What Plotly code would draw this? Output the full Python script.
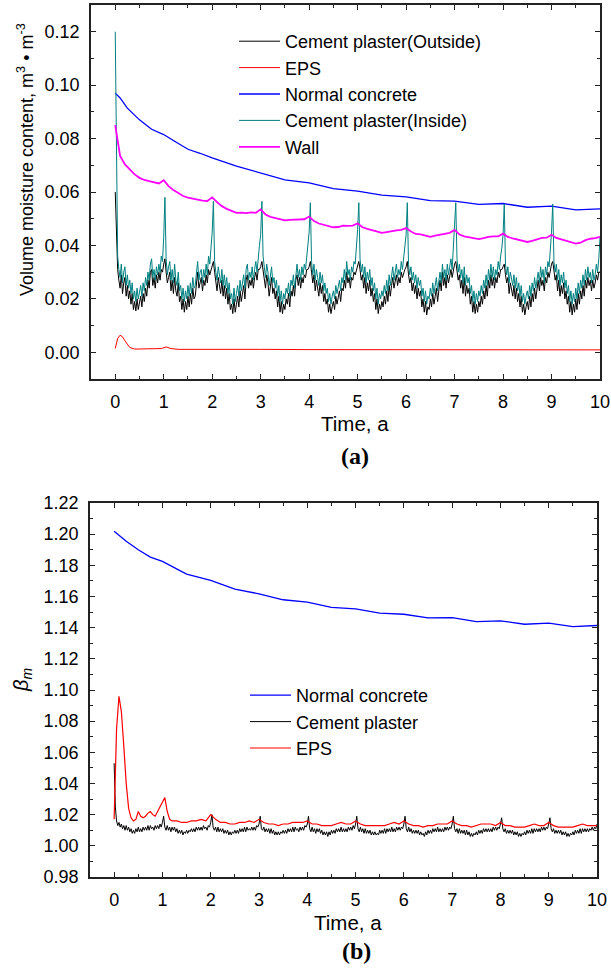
import numpy as np
import plotly.graph_objects as go

# ---------------- data: panel (a) ----------------
t_fine = np.round(np.linspace(0, 10, 401), 3)   # time, a (0.025 step)

cp_inside = [
    0.120, 0.060, 0.036, 0.031, 0.028, 0.033, 0.026, 0.030, 0.032, 0.025, 0.029, 0.024, 0.027, 0.022, 0.026, 0.020, 0.023, 0.019, 0.024, 0.020,
    0.022, 0.025, 0.021, 0.026, 0.023, 0.028, 0.025, 0.030, 0.027, 0.033, 0.035, 0.028, 0.031, 0.027, 0.032, 0.029, 0.033, 0.030, 0.036, 0.034,
    0.043, 0.058, 0.035, 0.029, 0.032, 0.034, 0.027, 0.031, 0.026, 0.033, 0.027, 0.025, 0.030, 0.023, 0.025, 0.020, 0.024, 0.019, 0.023, 0.020,
    0.025, 0.021, 0.026, 0.022, 0.028, 0.024, 0.025, 0.030, 0.034, 0.027, 0.030, 0.031, 0.026, 0.031, 0.028, 0.033, 0.029, 0.036, 0.033, 0.039,
    0.045, 0.0565, 0.034, 0.030, 0.027, 0.032, 0.029, 0.026, 0.031, 0.025, 0.029, 0.024, 0.028, 0.022, 0.026, 0.020, 0.022, 0.018, 0.024, 0.019,
    0.022, 0.025, 0.021, 0.027, 0.023, 0.026, 0.029, 0.024, 0.031, 0.033, 0.027, 0.030, 0.028, 0.032, 0.027, 0.031, 0.034, 0.030, 0.037, 0.040,
    0.044, 0.0565, 0.036, 0.031, 0.028, 0.033, 0.030, 0.025, 0.029, 0.032, 0.026, 0.028, 0.024, 0.027, 0.021, 0.025, 0.019, 0.023, 0.018, 0.022,
    0.020, 0.024, 0.022, 0.026, 0.021, 0.027, 0.025, 0.029, 0.024, 0.030, 0.033, 0.028, 0.031, 0.027, 0.032, 0.029, 0.033, 0.031, 0.036, 0.039,
    0.045, 0.056, 0.034, 0.029, 0.033, 0.027, 0.031, 0.028, 0.025, 0.030, 0.026, 0.029, 0.023, 0.026, 0.022, 0.024, 0.019, 0.022, 0.018, 0.021,
    0.023, 0.020, 0.025, 0.022, 0.024, 0.027, 0.023, 0.028, 0.026, 0.031, 0.027, 0.034, 0.029, 0.031, 0.027, 0.032, 0.030, 0.034, 0.033, 0.039,
    0.046, 0.056, 0.035, 0.030, 0.033, 0.028, 0.032, 0.026, 0.030, 0.027, 0.031, 0.025, 0.028, 0.023, 0.026, 0.020, 0.024, 0.018, 0.022, 0.020,
    0.023, 0.021, 0.025, 0.022, 0.027, 0.023, 0.029, 0.025, 0.028, 0.032, 0.027, 0.030, 0.033, 0.028, 0.031, 0.029, 0.034, 0.031, 0.035, 0.038,
    0.044, 0.056, 0.033, 0.029, 0.032, 0.027, 0.030, 0.026, 0.029, 0.024, 0.028, 0.025, 0.027, 0.021, 0.024, 0.019, 0.023, 0.018, 0.021, 0.020,
    0.024, 0.021, 0.026, 0.022, 0.025, 0.028, 0.023, 0.027, 0.030, 0.026, 0.033, 0.028, 0.031, 0.027, 0.033, 0.029, 0.032, 0.035, 0.031, 0.038,
    0.045, 0.056, 0.035, 0.030, 0.033, 0.028, 0.031, 0.026, 0.032, 0.025, 0.029, 0.026, 0.028, 0.022, 0.025, 0.019, 0.023, 0.018, 0.022, 0.019,
    0.023, 0.021, 0.025, 0.022, 0.027, 0.024, 0.029, 0.025, 0.031, 0.027, 0.033, 0.028, 0.032, 0.027, 0.031, 0.029, 0.034, 0.031, 0.036, 0.039,
    0.044, 0.0555, 0.033, 0.029, 0.032, 0.026, 0.030, 0.027, 0.025, 0.029, 0.024, 0.028, 0.023, 0.026, 0.021, 0.025, 0.019, 0.022, 0.018, 0.021,
    0.023, 0.020, 0.025, 0.021, 0.026, 0.023, 0.028, 0.024, 0.027, 0.030, 0.026, 0.032, 0.028, 0.031, 0.026, 0.032, 0.029, 0.034, 0.032, 0.038,
    0.045, 0.0555, 0.034, 0.030, 0.033, 0.027, 0.031, 0.025, 0.029, 0.026, 0.030, 0.024, 0.027, 0.022, 0.025, 0.019, 0.023, 0.018, 0.022, 0.019,
    0.024, 0.020, 0.026, 0.022, 0.027, 0.024, 0.029, 0.025, 0.031, 0.027, 0.032, 0.028, 0.030, 0.026, 0.031, 0.027, 0.029, 0.033, 0.030, 0.035,
    0.043,
]

cp_outside = [
    0.060, 0.040, 0.031, 0.027, 0.024, 0.029, 0.022, 0.026, 0.028, 0.021, 0.025, 0.020, 0.023, 0.018, 0.022, 0.016, 0.019, 0.0155, 0.020, 0.016,
    0.018, 0.021, 0.017, 0.022, 0.019, 0.024, 0.021, 0.027, 0.024, 0.030, 0.031, 0.025, 0.028, 0.024, 0.029, 0.026, 0.030, 0.027, 0.031, 0.030,
    0.033, 0.035, 0.030, 0.026, 0.028, 0.030, 0.023, 0.027, 0.022, 0.028, 0.023, 0.021, 0.026, 0.019, 0.021, 0.016, 0.020, 0.015, 0.019, 0.016,
    0.021, 0.017, 0.022, 0.018, 0.024, 0.020, 0.021, 0.026, 0.030, 0.024, 0.026, 0.028, 0.023, 0.027, 0.025, 0.029, 0.026, 0.031, 0.029, 0.031,
    0.032, 0.034, 0.030, 0.027, 0.023, 0.028, 0.025, 0.022, 0.027, 0.021, 0.025, 0.020, 0.024, 0.018, 0.022, 0.016, 0.018, 0.0145, 0.020, 0.015,
    0.018, 0.021, 0.017, 0.023, 0.019, 0.022, 0.025, 0.020, 0.027, 0.029, 0.024, 0.027, 0.025, 0.028, 0.024, 0.028, 0.030, 0.027, 0.031, 0.031,
    0.032, 0.034, 0.031, 0.027, 0.024, 0.029, 0.026, 0.021, 0.025, 0.028, 0.022, 0.024, 0.020, 0.023, 0.017, 0.021, 0.015, 0.019, 0.0145, 0.018,
    0.016, 0.020, 0.018, 0.022, 0.017, 0.023, 0.021, 0.025, 0.021, 0.027, 0.029, 0.025, 0.028, 0.024, 0.028, 0.026, 0.029, 0.028, 0.031, 0.031,
    0.032, 0.034, 0.030, 0.026, 0.029, 0.023, 0.027, 0.024, 0.021, 0.026, 0.022, 0.025, 0.019, 0.022, 0.018, 0.020, 0.015, 0.018, 0.0145, 0.017,
    0.019, 0.016, 0.021, 0.018, 0.020, 0.023, 0.019, 0.024, 0.023, 0.027, 0.024, 0.030, 0.026, 0.028, 0.024, 0.028, 0.027, 0.030, 0.029, 0.031,
    0.033, 0.034, 0.031, 0.027, 0.029, 0.024, 0.028, 0.022, 0.026, 0.023, 0.027, 0.021, 0.024, 0.019, 0.022, 0.016, 0.020, 0.0145, 0.018, 0.016,
    0.019, 0.017, 0.021, 0.018, 0.023, 0.019, 0.025, 0.021, 0.025, 0.028, 0.024, 0.027, 0.029, 0.025, 0.028, 0.026, 0.030, 0.028, 0.030, 0.031,
    0.032, 0.034, 0.029, 0.026, 0.028, 0.023, 0.026, 0.022, 0.025, 0.020, 0.024, 0.021, 0.023, 0.017, 0.020, 0.015, 0.019, 0.014, 0.017, 0.016,
    0.020, 0.017, 0.022, 0.018, 0.021, 0.024, 0.019, 0.023, 0.027, 0.023, 0.030, 0.025, 0.028, 0.024, 0.029, 0.026, 0.028, 0.031, 0.028, 0.031,
    0.033, 0.034, 0.031, 0.027, 0.029, 0.024, 0.027, 0.022, 0.028, 0.021, 0.025, 0.022, 0.024, 0.018, 0.021, 0.015, 0.019, 0.0145, 0.018, 0.015,
    0.019, 0.017, 0.021, 0.018, 0.023, 0.020, 0.025, 0.021, 0.027, 0.024, 0.029, 0.025, 0.028, 0.024, 0.028, 0.026, 0.030, 0.028, 0.031, 0.031,
    0.032, 0.033, 0.029, 0.026, 0.028, 0.022, 0.026, 0.023, 0.021, 0.025, 0.020, 0.024, 0.019, 0.022, 0.017, 0.021, 0.015, 0.018, 0.014, 0.017,
    0.019, 0.016, 0.021, 0.017, 0.022, 0.019, 0.024, 0.020, 0.024, 0.027, 0.023, 0.028, 0.025, 0.027, 0.023, 0.028, 0.026, 0.030, 0.028, 0.031,
    0.033, 0.034, 0.030, 0.027, 0.029, 0.023, 0.027, 0.021, 0.025, 0.022, 0.026, 0.020, 0.023, 0.018, 0.021, 0.015, 0.019, 0.014, 0.018, 0.015,
    0.020, 0.016, 0.022, 0.018, 0.023, 0.020, 0.025, 0.021, 0.027, 0.024, 0.028, 0.025, 0.027, 0.023, 0.027, 0.024, 0.026, 0.029, 0.027, 0.030,
    0.030,
]

eps_t = [0, 0.05, 0.1, 0.15, 0.2, 0.25, 0.3, 0.4, 0.6, 0.8, 0.95, 1.05, 1.15, 1.3, 1.6, 2.0, 2.05, 2.2,
         3, 4, 5, 6, 7, 8, 9, 10]
eps_a = [0.0014, 0.0052, 0.0064, 0.0058, 0.0043, 0.0028, 0.0018, 0.0012, 0.0012, 0.0013, 0.0014, 0.0020,
         0.0014, 0.0011, 0.0011, 0.0012, 0.0013, 0.0011, 0.0011, 0.0010, 0.0010, 0.0010, 0.0009, 0.0009,
         0.0009, 0.0009]

nc_t = [0, 0.1, 0.25, 0.5, 0.75, 1.0, 1.25, 1.5, 1.75, 2.0, 2.5, 3.0, 3.5, 4.0, 4.5, 5.0, 5.5, 6.0,
        6.5, 7.0, 7.5, 8.0, 8.5, 9.0, 9.5, 10.0]
nc_a = [0.0970, 0.0952, 0.0914, 0.0870, 0.0835, 0.0815, 0.0787, 0.0760, 0.0745, 0.0728, 0.0697, 0.0672,
        0.0645, 0.0634, 0.0613, 0.0603, 0.0588, 0.0582, 0.0568, 0.0566, 0.0554, 0.0557, 0.0543, 0.0547,
        0.0533, 0.0537]

wall_t = np.round(np.linspace(0, 10, 101), 2)
wall_a = [
    0.0850, 0.0735, 0.0703, 0.0685, 0.0666, 0.0653, 0.0645, 0.0641, 0.0636, 0.0632,
    0.0644, 0.0622, 0.0607, 0.0597, 0.0585, 0.0579, 0.0575, 0.0570, 0.0568, 0.0566,
    0.0580, 0.0562, 0.0547, 0.0537, 0.0528, 0.0522, 0.0523, 0.0521, 0.0524, 0.0522,
    0.0535, 0.0516, 0.0507, 0.0503, 0.0497, 0.0494, 0.0496, 0.0497, 0.0499, 0.0498,
    0.0508, 0.0491, 0.0482, 0.0478, 0.0472, 0.0468, 0.0469, 0.0474, 0.0473, 0.0474,
    0.0483, 0.0468, 0.0462, 0.0457, 0.0451, 0.0447, 0.0450, 0.0454, 0.0456, 0.0458,
    0.0465, 0.0452, 0.0443, 0.0441, 0.0437, 0.0432, 0.0437, 0.0441, 0.0443, 0.0447,
    0.0458, 0.0441, 0.0434, 0.0430, 0.0427, 0.0424, 0.0427, 0.0432, 0.0434, 0.0434,
    0.0444, 0.0432, 0.0426, 0.0422, 0.0417, 0.0413, 0.0417, 0.0424, 0.0428, 0.0429,
    0.0440, 0.0428, 0.0422, 0.0416, 0.0412, 0.0407, 0.0410, 0.0420, 0.0425, 0.0427,
    0.0432,
]

# ---------------- data: panel (b) ----------------
nc_b_t = [0, 0.25, 0.5, 0.75, 1.0, 1.5, 2.0, 2.5, 3.0, 3.5, 4.0, 4.5, 5.0, 5.5, 6.0, 6.5, 7.0, 7.5,
          8.0, 8.5, 9.0, 9.5, 10.0]
nc_b = [1.2018, 1.1954, 1.1900, 1.1853, 1.1825, 1.1744, 1.1703, 1.1647, 1.1617, 1.1579, 1.1564, 1.1530,
        1.1521, 1.1493, 1.1486, 1.1463, 1.1465, 1.1439, 1.1444, 1.1422, 1.1429, 1.1407, 1.1414]

cp_b = [
    1.053, 1.025, 1.016, 1.013, 1.015, 1.012, 1.014, 1.011, 1.013, 1.010, 1.013, 1.010, 1.012, 1.009, 1.011, 1.008, 1.010, 1.008, 1.011, 1.009,
    1.012, 1.009, 1.011, 1.009, 1.012, 1.010, 1.012, 1.010, 1.013, 1.010, 1.013, 1.011, 1.012, 1.010, 1.013, 1.011, 1.013, 1.011, 1.014, 1.012,
    1.015, 1.019, 1.012, 1.010, 1.013, 1.010, 1.012, 1.009, 1.012, 1.010, 1.012, 1.009, 1.011, 1.008, 1.010, 1.008, 1.010, 1.007, 1.009, 1.008,
    1.010, 1.008, 1.010, 1.009, 1.011, 1.009, 1.011, 1.009, 1.012, 1.010, 1.012, 1.010, 1.012, 1.010, 1.013, 1.011, 1.012, 1.010, 1.013, 1.012,
    1.015, 1.020, 1.012, 1.010, 1.012, 1.009, 1.012, 1.009, 1.011, 1.009, 1.011, 1.008, 1.010, 1.008, 1.010, 1.007, 1.009, 1.007, 1.009, 1.008,
    1.010, 1.008, 1.010, 1.008, 1.011, 1.009, 1.011, 1.009, 1.012, 1.009, 1.012, 1.010, 1.011, 1.010, 1.012, 1.010, 1.012, 1.010, 1.013, 1.012,
    1.014, 1.019, 1.011, 1.010, 1.012, 1.009, 1.011, 1.009, 1.011, 1.008, 1.011, 1.008, 1.010, 1.007, 1.009, 1.007, 1.009, 1.007, 1.009, 1.008,
    1.010, 1.008, 1.010, 1.008, 1.011, 1.009, 1.011, 1.009, 1.012, 1.009, 1.012, 1.010, 1.011, 1.009, 1.012, 1.010, 1.012, 1.010, 1.013, 1.012,
    1.014, 1.019, 1.011, 1.009, 1.012, 1.009, 1.011, 1.008, 1.011, 1.009, 1.011, 1.008, 1.010, 1.007, 1.009, 1.007, 1.009, 1.006, 1.009, 1.007,
    1.010, 1.008, 1.010, 1.008, 1.011, 1.009, 1.011, 1.009, 1.012, 1.009, 1.011, 1.009, 1.011, 1.009, 1.012, 1.010, 1.012, 1.010, 1.013, 1.011,
    1.014, 1.019, 1.011, 1.009, 1.012, 1.009, 1.011, 1.008, 1.011, 1.008, 1.010, 1.008, 1.010, 1.007, 1.009, 1.007, 1.009, 1.007, 1.008, 1.007,
    1.010, 1.008, 1.010, 1.008, 1.011, 1.008, 1.011, 1.009, 1.011, 1.009, 1.012, 1.009, 1.011, 1.009, 1.012, 1.010, 1.012, 1.010, 1.012, 1.011,
    1.014, 1.019, 1.011, 1.009, 1.012, 1.009, 1.011, 1.008, 1.010, 1.008, 1.010, 1.008, 1.010, 1.007, 1.009, 1.007, 1.008, 1.006, 1.009, 1.007,
    1.010, 1.008, 1.010, 1.008, 1.011, 1.009, 1.011, 1.009, 1.012, 1.009, 1.011, 1.009, 1.011, 1.009, 1.012, 1.010, 1.012, 1.010, 1.012, 1.011,
    1.014, 1.019, 1.011, 1.009, 1.011, 1.008, 1.011, 1.008, 1.010, 1.008, 1.010, 1.007, 1.010, 1.007, 1.009, 1.006, 1.008, 1.006, 1.008, 1.007,
    1.009, 1.007, 1.010, 1.008, 1.010, 1.008, 1.011, 1.009, 1.011, 1.009, 1.011, 1.009, 1.011, 1.009, 1.012, 1.010, 1.012, 1.010, 1.012, 1.011,
    1.014, 1.018, 1.011, 1.009, 1.011, 1.008, 1.010, 1.008, 1.010, 1.008, 1.010, 1.007, 1.009, 1.007, 1.009, 1.006, 1.008, 1.006, 1.008, 1.007,
    1.009, 1.007, 1.010, 1.008, 1.010, 1.008, 1.011, 1.008, 1.011, 1.009, 1.011, 1.009, 1.011, 1.009, 1.012, 1.010, 1.012, 1.010, 1.012, 1.011,
    1.014, 1.018, 1.011, 1.009, 1.011, 1.008, 1.010, 1.008, 1.010, 1.008, 1.010, 1.007, 1.009, 1.007, 1.009, 1.006, 1.008, 1.006, 1.008, 1.007,
    1.009, 1.007, 1.010, 1.008, 1.010, 1.008, 1.011, 1.008, 1.011, 1.009, 1.011, 1.009, 1.011, 1.009, 1.011, 1.010, 1.012, 1.010, 1.012, 1.011,
    1.014,
]

eps_b_t = np.concatenate([np.round(np.linspace(0, 1.2, 25), 2), np.round(np.linspace(1.3, 10.0, 88), 2)])
eps_b = [
    1.017, 1.075, 1.096, 1.086, 1.064, 1.040, 1.024, 1.018, 1.016, 1.017, 1.022, 1.019, 1.018, 1.019, 1.021,
    1.022, 1.020, 1.019, 1.022, 1.025, 1.029, 1.031, 1.022, 1.017, 1.016,
    1.016, 1.015, 1.015, 1.016, 1.016, 1.017, 1.016,
    1.020, 1.017, 1.015, 1.015, 1.014, 1.014, 1.015, 1.015, 1.016, 1.015,
    1.017, 1.015, 1.014, 1.014, 1.013, 1.014, 1.014, 1.015, 1.015, 1.015,
    1.016, 1.014, 1.014, 1.013, 1.013, 1.013, 1.014, 1.015, 1.014, 1.014,
    1.016, 1.014, 1.013, 1.013, 1.013, 1.013, 1.013, 1.014, 1.015, 1.014,
    1.016, 1.014, 1.013, 1.013, 1.012, 1.013, 1.013, 1.014, 1.014, 1.014,
    1.016, 1.014, 1.013, 1.013, 1.012, 1.013, 1.014, 1.014, 1.014, 1.013,
    1.015, 1.013, 1.013, 1.012, 1.012, 1.012, 1.013, 1.014, 1.013, 1.013,
    1.015, 1.013, 1.012, 1.012, 1.012, 1.012, 1.013, 1.014, 1.013, 1.013,
    1.013,
]

assert len(cp_inside) == len(t_fine) and len(cp_outside) == len(t_fine) and len(cp_b) == len(t_fine)
assert len(eps_b) == len(eps_b_t) and len(wall_a) == len(wall_t)

x_ticks = list(range(0, 11))

# ---------------- figure ----------------
W, H = 611, 970
FONT = "Arial, Liberation Sans, sans-serif"

fig = go.Figure()

fig.add_trace(go.Scatter(x=t_fine, y=cp_outside, mode="lines", name="Cement plaster(Outside)",
                         line=dict(color="#000000", width=1), xaxis="x", yaxis="y", legend="legend"))
fig.add_trace(go.Scatter(x=eps_t, y=eps_a, mode="lines", name="EPS",
                         line=dict(color="#FF0000", width=1), xaxis="x", yaxis="y", legend="legend"))
fig.add_trace(go.Scatter(x=nc_t, y=nc_a, mode="lines", name="Normal concrete",
                         line=dict(color="#0000FF", width=1.3), xaxis="x", yaxis="y", legend="legend"))
fig.add_trace(go.Scatter(x=t_fine, y=cp_inside, mode="lines", name="Cement plaster(Inside)",
                         line=dict(color="#008080", width=1), xaxis="x", yaxis="y", legend="legend"))
fig.add_trace(go.Scatter(x=wall_t, y=wall_a, mode="lines", name="Wall",
                         line=dict(color="#FF00FF", width=1.8), xaxis="x", yaxis="y", legend="legend"))

fig.add_trace(go.Scatter(x=nc_b_t, y=nc_b, mode="lines", name="Normal concrete",
                         line=dict(color="#0000FF", width=1.3), xaxis="x2", yaxis="y2", legend="legend2"))
fig.add_trace(go.Scatter(x=t_fine, y=cp_b, mode="lines", name="Cement plaster",
                         line=dict(color="#000000", width=1), xaxis="x2", yaxis="y2", legend="legend2"))
fig.add_trace(go.Scatter(x=eps_b_t, y=eps_b, mode="lines", name="EPS",
                         line=dict(color="#FF0000", width=1.2), xaxis="x2", yaxis="y2", legend="legend2"))


def px_x(px):
    return px / W


def px_y(py):
    return 1 - py / H


axis_common = dict(
    showline=True, linecolor="#222222", linewidth=1.6, mirror="ticks",
    ticks="inside", ticklen=5, tickwidth=1.3, tickcolor="#222222",
    showgrid=False, zeroline=False,
    tickfont=dict(family=FONT, size=18, color="#000000"),
    automargin=False,
)
minor_x = dict(dtick=0.5, tick0=0, ticks="inside", ticklen=3, tickcolor="#222222", showgrid=False)

fig.update_layout(
    width=W, height=H,
    margin=dict(l=0, r=0, t=0, b=0),
    paper_bgcolor="white", plot_bgcolor="white",
    showlegend=True,
    xaxis=dict(axis_common, domain=[px_x(91), px_x(600)], range=[-0.5, 10.0],
               tickvals=x_ticks, ticklabelstandoff=6, anchor="y", minor=minor_x),
    yaxis=dict(axis_common, domain=[px_y(379), px_y(5)], range=[-0.01, 0.13],
               dtick=0.02, tick0=0, tickformat=".2f", ticklabelstandoff=6, anchor="x",
               minor=dict(dtick=0.01, tick0=0, ticks="inside", ticklen=3, tickcolor="#222222", showgrid=False)),
    xaxis2=dict(axis_common, domain=[px_x(90), px_x(597)], range=[-0.5, 10.0],
                tickvals=x_ticks, ticklabelstandoff=6, anchor="y2", minor=minor_x),
    yaxis2=dict(axis_common, domain=[px_y(877), px_y(503)], range=[0.98, 1.22],
                dtick=0.02, tick0=0.98, tickformat=".2f", ticklabelstandoff=6, anchor="x2",
                minor=dict(dtick=0.01, tick0=0.98, ticks="inside", ticklen=3, tickcolor="#222222", showgrid=False)),
    legend=dict(x=px_x(234), y=px_y(23), xanchor="left", yanchor="top", itemwidth=41,
                bgcolor="rgba(0,0,0,0)", borderwidth=0, tracegroupgap=0,
                font=dict(family=FONT, size=18, color="#000000")),
    legend2=dict(x=px_x(245), y=px_y(677), xanchor="left", yanchor="top", itemwidth=41,
                 bgcolor="rgba(0,0,0,0)", borderwidth=0, tracegroupgap=0,
                 font=dict(family=FONT, size=18, color="#000000")),
)

annotations = [
    dict(text="Time, a", x=px_x(355), y=px_y(423), font=dict(family=FONT, size=20.5, color="#000")),
    dict(text="Time, a", x=px_x(348), y=px_y(922), font=dict(family=FONT, size=20.5, color="#000")),
    dict(text="<b>(a)</b>", x=px_x(355), y=px_y(456),
         font=dict(family="Liberation Serif, Times New Roman, serif", size=24, color="#000")),
    dict(text="<b>(b)</b>", x=px_x(356), y=px_y(951),
         font=dict(family="Liberation Serif, Times New Roman, serif", size=24, color="#000")),
    dict(text="Volume moisture content, m<sup>3</sup> • m<sup>-3</sup>", x=px_x(26), y=px_y(160),
         textangle=-90, font=dict(family=FONT, size=18, color="#000")),
    dict(text="<i>β<sub>m</sub></i>", x=px_x(22), y=px_y(680),
         textangle=-90, font=dict(family=FONT, size=20, color="#000")),
]
for a in annotations:
    a.update(xref="paper", yref="paper", showarrow=False, xanchor="center", yanchor="middle")
fig.update_layout(annotations=annotations)

fig.write_html("out.html")
